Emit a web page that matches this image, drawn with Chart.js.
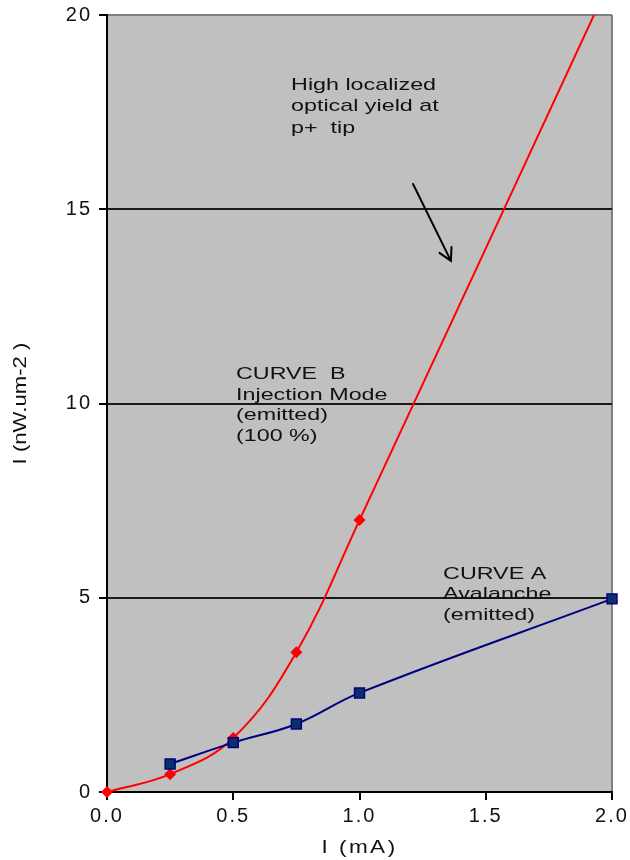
<!DOCTYPE html>
<html>
<head>
<meta charset="utf-8">
<script src="https://cdn.jsdelivr.net/npm/chart.js@4/dist/chart.umd.min.js"></script>
<style>
  html, body { margin: 0; padding: 0; background: #ffffff; }
  #wrap { width: 630px; height: 860px; position: relative; }
</style>
</head>
<body>
<div id="wrap"><canvas id="chart" width="630" height="860"></canvas></div>
<script>
// Curve B: injection mode emission, I (nW.um-2) against drive current I (mA)
const injectionCurrent = [0, 0.25, 0.5, 0.75, 1.0, 2.0];
const injectionIntensity = [0, 0.46, 1.39, 3.6, 7.0, 21.0];

// Curve A: avalanche emission
const avalancheCurrent = [0.25, 0.5, 0.75, 1.0, 2.0];
const avalancheIntensity = [0.72, 1.27, 1.75, 2.55, 4.97];

// Axis ranges and tick steps
const currentTicks = [0.0, 0.5, 1.0, 1.5, 2.0];
const intensityTicks = [0, 5, 10, 15, 20];

// Text notes placed inside the plot
const noteYield = ['High localized', 'optical yield at', 'p+  tip'];
const noteCurveB = ['CURVE  B', 'Injection Mode', '(emitted)', '(100 %)'];
const noteCurveA = ['CURVE A', 'Avalanche', '(emitted)'];

const FONT = "'Liberation Sans', Arial, Helvetica, sans-serif";
const INK = '#111111';

function pairs(xs, ys) {
  return xs.map((x, i) => ({ x: x, y: ys[i] }));
}

// Draws text widened horizontally, the way the labels on this plot look.
function wideText(ctx, text, x, y, size, sx, spacing) {
  ctx.save();
  ctx.translate(x, y);
  ctx.scale(sx, 1);
  ctx.font = size + 'px ' + FONT;
  if ('letterSpacing' in ctx) ctx.letterSpacing = (spacing || 0) + 'px';
  ctx.fillText(text, 0, 0);
  ctx.restore();
}

// Slightly spaced tick labels
const tickSpacing = {
  id: 'tickSpacing',
  beforeLayout(chart) { if ('letterSpacing' in chart.ctx) chart.ctx.letterSpacing = '2px'; },
  beforeDraw(chart) { if ('letterSpacing' in chart.ctx) chart.ctx.letterSpacing = '2px'; }
};

const plotBackground = {
  id: 'plotBackground',
  beforeDraw(chart) {
    const { ctx, chartArea: a } = chart;
    ctx.save();
    ctx.fillStyle = '#c0c0c0';
    ctx.fillRect(a.left, a.top, a.right - a.left, a.bottom - a.top);
    ctx.restore();
  }
};

const notes = {
  id: 'notes',
  afterDraw(chart) {
    const ctx = chart.ctx;
    const xs = chart.scales.x, ys = chart.scales.y;
    const a = chart.chartArea;
    ctx.save();
    ctx.fillStyle = INK;
    ctx.textAlign = 'left';
    ctx.textBaseline = 'alphabetic';

    const block = (lines, xv, yv, step) => {
      const px = xs.getPixelForValue(xv);
      const py = ys.getPixelForValue(yv);
      lines.forEach((t, i) => wideText(ctx, t, px, py + i * step, 17, 1.37, 0));
    };
    block(noteYield, 0.729, 18.07, 21.5);
    block(noteCurveB, 0.511, 10.63, 20.5);
    block(noteCurveA, 1.331, 5.48, 20.2);

    // arrow pointing down onto curve B
    const x0 = xs.getPixelForValue(1.212), y0 = ys.getPixelForValue(15.65);
    const x1 = xs.getPixelForValue(1.362), y1 = ys.getPixelForValue(13.67);
    const ang = Math.atan2(y1 - y0, x1 - x0);
    const head = 14, spread = 0.5;
    ctx.strokeStyle = '#000000';
    ctx.lineWidth = 2;
    ctx.lineCap = 'round';
    ctx.beginPath();
    ctx.moveTo(x0, y0);
    ctx.lineTo(x1, y1);
    ctx.moveTo(x1 - head * Math.cos(ang - spread), y1 - head * Math.sin(ang - spread));
    ctx.lineTo(x1, y1);
    ctx.lineTo(x1 - head * Math.cos(ang + spread), y1 - head * Math.sin(ang + spread));
    ctx.stroke();

    // axis titles
    ctx.textAlign = 'center';
    ctx.textBaseline = 'middle';
    ctx.save();
    ctx.translate(21, (a.top + a.bottom) / 2);
    ctx.rotate(-Math.PI / 2);
    wideText(ctx, 'I (nW.um-2 )', 0, 0, 18, 1.23, 0);
    ctx.restore();
    wideText(ctx, 'I (mA)', (a.left + a.right) / 2, 848, 18, 1.25, 2);
    ctx.restore();
  }
};

const tickFont = { family: FONT, size: 20 };

new Chart(document.getElementById('chart'), {
  type: 'line',
  data: {
    datasets: [
      {
        label: 'CURVE B',
        data: pairs(injectionCurrent, injectionIntensity),
        borderColor: '#ff0000',
        backgroundColor: '#ff0000',
        borderWidth: 2,
        pointStyle: 'rectRot',
        pointRadius: 6,
        pointBorderWidth: 0,
        pointBackgroundColor: '#ff0000',
        tension: 0.4,
        order: 1,
        clip: { left: 12, right: 12, bottom: 12, top: 0 }
      },
      {
        label: 'CURVE A',
        data: pairs(avalancheCurrent, avalancheIntensity),
        borderColor: '#000080',
        backgroundColor: '#0a2f6b',
        borderWidth: 2,
        pointStyle: 'rect',
        pointRadius: 7,
        pointBorderWidth: 1.5,
        pointBorderColor: '#000080',
        pointBackgroundColor: '#0a2f6b',
        tension: 0.4,
        order: 0,
        clip: { left: 12, right: 12, bottom: 12, top: 0 }
      }
    ]
  },
  options: {
    responsive: false,
    animation: false,
    devicePixelRatio: 1,
    layout: { padding: { top: 15, right: 18, left: 0, bottom: 0 } },
    plugins: { legend: { display: false }, tooltip: { enabled: false } },
    scales: {
      x: {
        type: 'linear',
        min: currentTicks[0],
        max: currentTicks[currentTicks.length - 1],
        afterBuildTicks(scale) { scale.ticks = currentTicks.map(v => ({ value: v })); },
        afterFit(scale) { scale.height = 68; scale.paddingLeft = 0; scale.paddingRight = 0; },
        border: { display: true, color: '#000000', width: 2 },
        grid: {
          color: c => (c.tick && c.tick.value === 2 ? '#808080' : 'rgba(0,0,0,0)'),
          lineWidth: 2,
          tickColor: '#000000',
          tickLength: 8,
          drawTicks: true
        },
        ticks: {
          color: INK,
          font: tickFont,
          padding: 4,
          maxRotation: 0,
          callback: v => Number(v).toFixed(1)
        }
      },
      y: {
        min: intensityTicks[0],
        max: intensityTicks[intensityTicks.length - 1],
        afterBuildTicks(scale) { scale.ticks = intensityTicks.map(v => ({ value: v })); },
        afterFit(scale) { scale.width = 107; scale.paddingTop = 0; scale.paddingBottom = 0; },
        border: { display: true, color: '#000000', width: 2 },
        grid: {
          color: c => (c.tick && c.tick.value === 20 ? '#808080' : '#1a1a1a'),
          lineWidth: 2,
          tickColor: '#000000',
          tickLength: 8,
          drawTicks: true
        },
        ticks: {
          color: INK,
          font: tickFont,
          padding: 7,
          callback: v => String(v)
        }
      }
    }
  },
  plugins: [tickSpacing, plotBackground, notes]
});
</script>
</body>
</html>
